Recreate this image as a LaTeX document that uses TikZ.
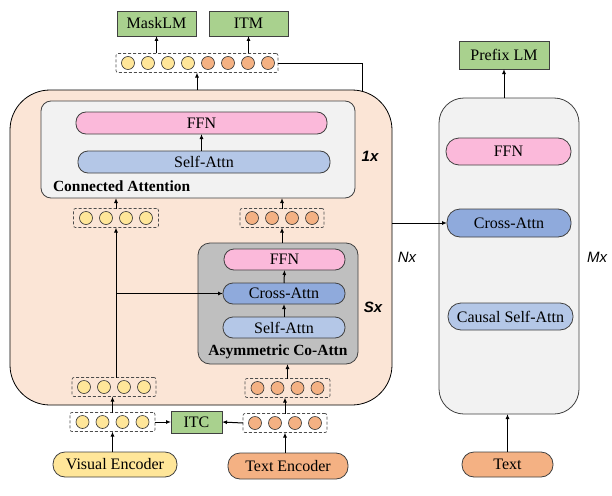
\documentclass[tikz,border=0pt]{standalone}
\usepackage{fontspec}
\setmainfont{Liberation Serif}
\newfontfamily\arialfont{Liberation Sans}
\usetikzlibrary{arrows.meta,calc}
\definecolor{peach}{HTML}{FBE5D6}
\definecolor{lgray}{HTML}{F2F2F2}
\definecolor{mgray}{HTML}{BFBFBF}
\definecolor{pinkc}{HTML}{FBB9DA}
\definecolor{lblue}{HTML}{B4C7E7}
\definecolor{mblue}{HTML}{8FAADC}
\definecolor{yel}{HTML}{FFE699}
\definecolor{ora}{HTML}{F4B183}
\definecolor{grn}{HTML}{A9D18E}
\tikzset{
  every node/.style={font=\fontsize{16}{19}\selectfont, inner sep=0pt, outer sep=0pt},
  pill/.style={draw=black!75, line width=0.8pt, rounded corners=10pt},
  greenbox/.style={draw=black!75, fill=grn, line width=0.8pt},
  dashbox/.style={draw=black!70, line width=0.7pt, rounded corners=2pt, dash pattern=on 3pt off 2pt},
  tok/.style={circle, draw=black!80, line width=0.6pt, minimum size=13pt},
  arr/.style={-{Latex[length=5pt,width=4pt]}, line width=1pt},
  plain/.style={line width=1pt},
  lbl/.style={font=\arialfont\fontsize{15}{18}\selectfont\itshape},
  blbl/.style={font=\arialfont\fontsize{15}{18}\selectfont\bfseries\itshape},
}
\newcommand\mytokrow[6]{%
  \node[dashbox, minimum width=#6pt, minimum height=19pt] (#1) at (#2,#3) {};
  \foreach \i in {1,...,#4} \node[tok, fill=#5] (#1-\i) at ({#2+(\i-(#4+1)/2)*20},#3) {};
}
\begin{document}
\begin{tikzpicture}[x=1pt,y=-1pt]
\useasboundingbox (0,0) rectangle (612,495);
% big peach box
\node[draw=black, line width=0.8pt, fill=peach, rounded corners=40pt, minimum width=382pt, minimum height=315pt] (peach) at (201,247.5) {};
% right box
\node[draw=black!75, line width=0.8pt, fill=lgray, rounded corners=25pt, minimum width=140pt, minimum height=316pt] (rbox) at (509,256) {};
% connected attention
\node[draw=black!75, line width=0.8pt, fill=lgray, rounded corners=10pt, minimum width=314pt, minimum height=97pt] (conn) at (198,149.5) {};
\node[pill, fill=pinkc, minimum width=251pt, minimum height=22pt] (ffn1) at (201.5,123) {FFN};
\node[pill, fill=lblue, minimum width=252pt, minimum height=22pt] (sa1) at (204,162) {Self-Attn};
\node[anchor=west, font=\fontsize{15.5}{19}\selectfont\bfseries] (conlbl) at (53,186) {Connected Attention};
% asymmetric co-attn
\node[draw=black!75, line width=0.8pt, fill=mgray, rounded corners=12pt, minimum width=160pt, minimum height=121pt] (asym) at (278,303.5) {};
\node[pill, fill=pinkc, minimum width=121pt, minimum height=21pt] (ffn2) at (284.5,259.5) {FFN};
\node[pill, fill=mblue, minimum width=122pt, minimum height=21pt] (ca2) at (284,293.5) {Cross-Attn};
\node[pill, fill=lblue, minimum width=122pt, minimum height=21pt] (sa2) at (284,327.5) {Self-Attn};
\node[font=\fontsize{15.5}{19}\selectfont\bfseries] (asymlbl) at (278,352) {Asymmetric Co-Attn};
% right column
\node[pill, rounded corners=13pt, fill=pinkc, minimum width=125pt, minimum height=27pt] (ffn3) at (508.5,151.5) {FFN};
\node[pill, rounded corners=13pt, fill=mblue, minimum width=124pt, minimum height=28pt] (ca3) at (509,223) {Cross-Attn};
\node[pill, rounded corners=13pt, fill=lblue, minimum width=125pt, minimum height=27pt] (csa3) at (510.5,316.5) {Causal Self-Attn};
\node[greenbox, minimum width=90pt, minimum height=28pt] (prefix) at (504,55) {Prefix LM};
\node[pill, rounded corners=12pt, fill=ora, minimum width=91pt, minimum height=25pt] (text) at (507.5,464.5) {Text};
% heads
\node[greenbox, minimum width=79pt, minimum height=25pt] (mask) at (156.5,23.5) {MaskLM};
\node[greenbox, minimum width=79pt, minimum height=25pt] (itm) at (248.5,23.5) {ITM};
\node[greenbox, minimum width=51pt, minimum height=22pt] (itc) at (196.5,422) {ITC};
% encoders
\node[pill, rounded corners=12pt, fill=yel, minimum width=124pt, minimum height=25pt] (vis) at (115,464.5) {Visual Encoder};
\node[pill, rounded corners=12pt, fill=ora, minimum width=120pt, minimum height=26pt] (tenc) at (288,466) {Text Encoder};
% token rows
\node[dashbox, minimum width=162pt, minimum height=19pt] (toptok) at (197,63) {};
\foreach \i in {1,...,4} \node[tok, fill=yel] (toptok-\i) at ({108+\i*20},63) {};
\foreach \i in {5,...,8} \node[tok, fill=ora] (toptok-\i) at ({108+\i*20},63) {};
\mytokrow{midL}{116}{218}{4}{yel}{85}
\mytokrow{midR}{282}{218}{4}{ora}{84}
\mytokrow{botL}{114}{387}{4}{yel}{84}
\mytokrow{botR}{287.5}{388}{4}{ora}{85}
\mytokrow{outL}{112.5}{422}{4}{yel}{85}
\mytokrow{outR}{285}{423}{4}{ora}{84}
% labels
\node[blbl] (l1x) at (370,156) {1x};
\node[blbl] (lsx) at (373,307) {Sx};
\node[lbl] (lnx) at (407,257) {Nx};
\node[lbl] (lmx) at (597,257) {Mx};
% connectors
\draw[arr] (mask.south |- toptok.north) -- (mask.south);
\draw[arr] (itm.south |- toptok.north) -- (itm.south);
\draw[arr] (toptok.south |- peach.north) -- (toptok.south);
\coordinate (pk) at (362,91.5);
\draw[plain] (toptok.east) -| (pk);
\draw[arr] (peach.east |- ca3.west) -- (ca3.west);
\draw[arr] (prefix.south |- rbox.north) -- (prefix.south);
\draw[arr] (text.north) -- (text.north |- rbox.south);
\draw[arr] (sa1.north -| ffn1.south) -- (ffn1.south);
\draw[arr] (midL.north) -- (midL.north |- conn.south);
\draw[arr] (midR.north) -- (midR.north |- conn.south);
\draw[arr] (midR.south |- asym.north) -- (midR.south);
\draw[arr] (sa2.north) -- (ca2.south);
\draw[arr] (ca2.north) -- (ffn2.south);
\draw[arr] (midL.south |- botL.north) -- (midL.south);
\coordinate (br) at (midL.south |- ca2.west);
\draw[arr] (br) -- (ca2.west);
\draw[arr] (botR.north) -- (botR.north |- asym.south);
\draw[arr] (outL.north) -- (outL.north |- botL.south);
\draw[arr] (outR.north) -- (outR.north |- botR.south);
\draw[arr] (outL.east) -- (itc.west);
\draw[arr] (outR.west) -- (itc.east);
\draw[arr] (vis.north -| outL.south) -- (outL.south);
\draw[arr] (tenc.north -| outR.south) -- (outR.south);
\end{tikzpicture}
\end{document}
